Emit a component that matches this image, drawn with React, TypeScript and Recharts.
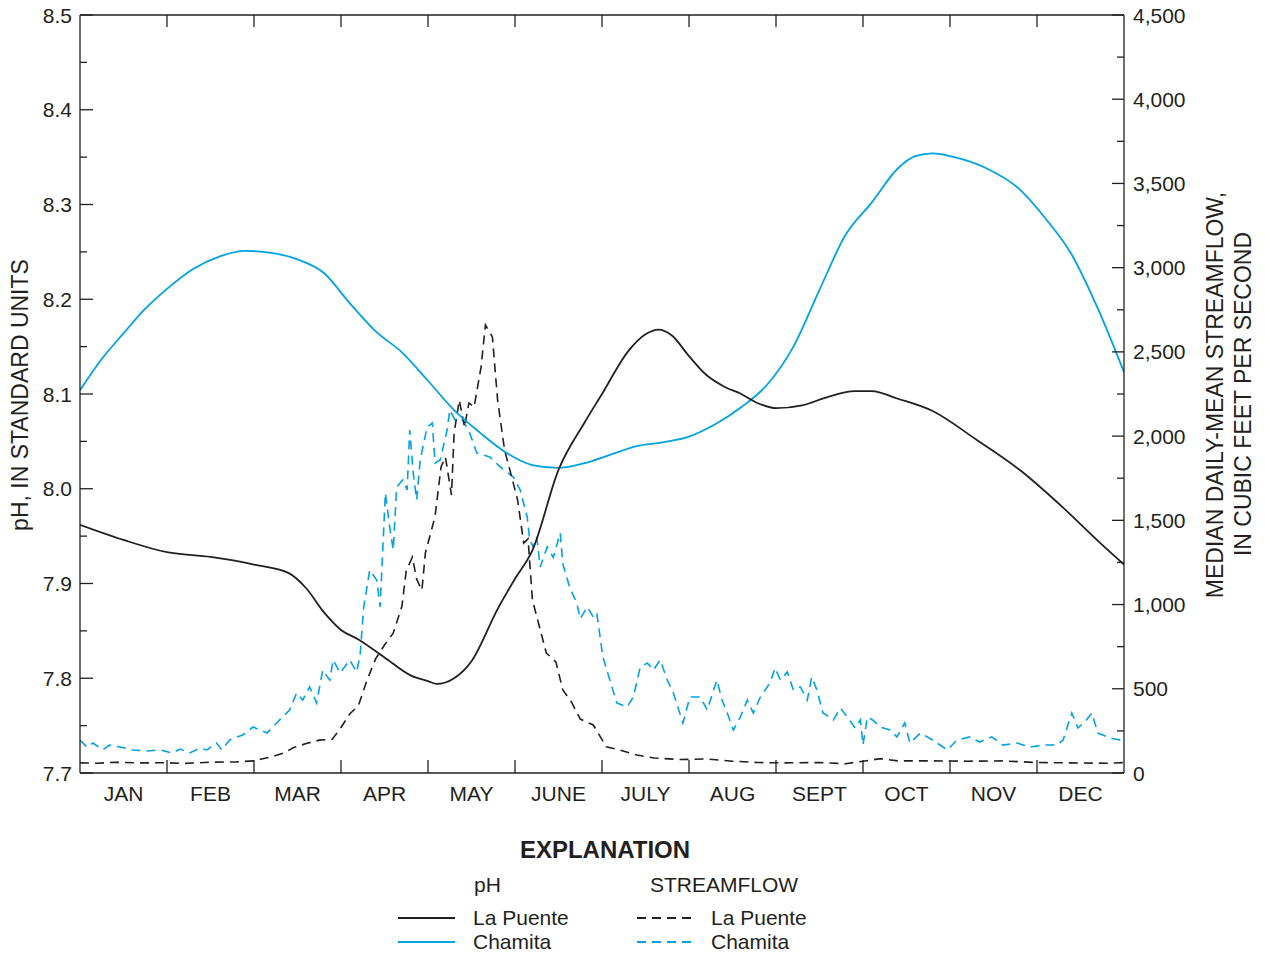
import React from 'react';
import { LineChart, Line, XAxis, YAxis, ReferenceLine } from 'recharts';

const months = ['JAN', 'FEB', 'MAR', 'APR', 'MAY', 'JUNE', 'JULY', 'AUG', 'SEPT', 'OCT', 'NOV', 'DEC'];

const phTicks = [7.7, 7.75, 7.8, 7.85, 7.9, 7.95, 8.0, 8.05, 8.1, 8.15, 8.2, 8.25, 8.3, 8.35, 8.4, 8.45, 8.5];
const flowTicks = [0, 250, 500, 750, 1000, 1250, 1500, 1750, 2000, 2250, 2500, 2750, 3000, 3250, 3500, 3750, 4000, 4250, 4500];

// [month position, pH]
const phLaPuente: [number, number][] = [
  [0, 7.962], [0.5, 7.946], [1, 7.933], [1.5, 7.928], [2, 7.92], [2.4, 7.911], [2.6, 7.895],
  [2.8, 7.87], [3, 7.851], [3.2, 7.841], [3.5, 7.822], [3.8, 7.803], [4, 7.797], [4.1, 7.794],
  [4.3, 7.8], [4.5, 7.818], [4.8, 7.873], [5, 7.905], [5.2, 7.935], [5.5, 8.02], [5.8, 8.07],
  [6, 8.1], [6.3, 8.145], [6.5, 8.163], [6.65, 8.168], [6.8, 8.162], [7, 8.14], [7.2, 8.12],
  [7.4, 8.108], [7.6, 8.1], [7.8, 8.09], [8, 8.085], [8.3, 8.088], [8.6, 8.097], [8.9, 8.103],
  [9.1, 8.103], [9.4, 8.095], [9.8, 8.082], [10.3, 8.052], [10.8, 8.02], [11.3, 7.98], [11.7, 7.945], [12, 7.92],
];

const phChamita: [number, number][] = [
  [0, 8.104], [0.25, 8.137], [0.5, 8.164], [0.75, 8.19], [1, 8.211], [1.3, 8.232], [1.6, 8.245],
  [1.9, 8.251], [2.2, 8.249], [2.5, 8.242], [2.8, 8.228], [3.1, 8.196], [3.4, 8.166], [3.7, 8.144],
  [4, 8.114], [4.3, 8.083], [4.6, 8.059], [4.9, 8.038], [5.2, 8.025], [5.5, 8.022], [5.8, 8.027],
  [6.1, 8.036], [6.4, 8.045], [6.7, 8.049], [7, 8.055], [7.3, 8.068], [7.6, 8.086], [7.9, 8.11],
  [8.2, 8.15], [8.5, 8.21], [8.8, 8.268], [9.1, 8.302], [9.4, 8.338], [9.6, 8.351], [9.8, 8.354],
  [10.05, 8.35], [10.4, 8.339], [10.8, 8.316], [11.1, 8.285], [11.4, 8.247], [11.7, 8.19], [12, 8.123],
];

// [month position, cubic feet per second]
const flowLaPuente: [number, number][] = [
  [0, 60], [0.2, 58], [0.4, 64], [0.7, 60], [1, 61], [1.2, 57], [1.5, 64], [1.8, 66], [2, 72],
  [2.1, 85], [2.2, 95], [2.35, 120], [2.45, 150], [2.6, 175], [2.75, 195], [2.9, 200], [3, 270],
  [3.1, 350], [3.2, 400], [3.3, 552], [3.4, 680], [3.5, 760], [3.6, 830], [3.7, 990], [3.75, 1200],
  [3.82, 1282], [3.87, 1150], [3.93, 1086], [3.97, 1306], [4.08, 1520], [4.15, 1817], [4.2, 1876],
  [4.27, 1650], [4.3, 2018], [4.36, 2214], [4.42, 2054], [4.47, 2197], [4.53, 2173], [4.61, 2410],
  [4.66, 2660], [4.74, 2589], [4.8, 2214], [4.88, 1918], [4.95, 1781], [5.03, 1621], [5.1, 1365],
  [5.15, 1390], [5.2, 1027], [5.28, 870], [5.36, 712], [5.47, 660], [5.55, 493], [5.65, 420],
  [5.75, 320], [5.9, 285], [6.05, 155], [6.2, 137], [6.4, 107], [6.6, 89], [6.9, 80], [7.2, 83],
  [7.5, 70], [7.8, 62], [8.1, 60], [8.5, 62], [8.8, 55], [9, 70], [9.2, 85], [9.4, 72], [9.8, 72],
  [10.2, 70], [10.6, 72], [11, 62], [11.4, 60], [11.8, 58], [12, 62],
];

const flowChamita: [number, number][] = [
  [0, 196], [0.08, 154], [0.15, 178], [0.26, 137], [0.34, 166], [0.46, 154], [0.61, 137], [0.77, 131],
  [0.92, 137], [1.06, 119], [1.15, 142], [1.26, 119], [1.38, 148], [1.46, 137], [1.57, 178], [1.63, 137],
  [1.72, 196], [1.87, 226], [1.99, 273], [2.07, 255], [2.15, 237], [2.26, 297], [2.41, 374], [2.49, 475],
  [2.56, 433], [2.64, 511], [2.72, 416], [2.79, 611], [2.87, 552], [2.91, 671], [2.99, 594], [3.1, 671],
  [3.18, 600], [3.22, 700], [3.26, 980], [3.33, 1205], [3.41, 1146], [3.45, 986], [3.51, 1662], [3.56, 1460],
  [3.6, 1324], [3.64, 1698], [3.71, 1740], [3.76, 1680], [3.79, 2036], [3.83, 1781], [3.87, 1621], [3.91, 1858],
  [3.99, 2054], [4.05, 2078], [4.08, 1840], [4.14, 1858], [4.22, 2036], [4.25, 2155], [4.31, 2096], [4.4, 2096],
  [4.48, 2018], [4.56, 1900], [4.71, 1876], [4.83, 1817], [4.98, 1757], [5.06, 1680], [5.14, 1520], [5.17, 1383],
  [5.21, 1342], [5.25, 1401], [5.29, 1223], [5.37, 1342], [5.44, 1280], [5.52, 1425], [5.55, 1240], [5.63, 1100],
  [5.71, 1009], [5.75, 915], [5.83, 986], [5.9, 926], [5.94, 950], [6.01, 689], [6.09, 552], [6.17, 416],
  [6.29, 392], [6.36, 451], [6.44, 629], [6.52, 653], [6.59, 611], [6.67, 671], [6.75, 552], [6.82, 475],
  [6.93, 297], [7.01, 451], [7.13, 451], [7.21, 374], [7.32, 552], [7.38, 433], [7.44, 356], [7.51, 255],
  [7.59, 332], [7.67, 433], [7.74, 356], [7.82, 451], [7.93, 534], [7.99, 623], [8.05, 552], [8.13, 600],
  [8.2, 493], [8.28, 511], [8.36, 433], [8.41, 570], [8.47, 493], [8.54, 356], [8.66, 315], [8.74, 386],
  [8.82, 332], [8.91, 267], [8.97, 315], [9, 166], [9.05, 332], [9.11, 315], [9.2, 273], [9.31, 255],
  [9.39, 214], [9.48, 297], [9.54, 178], [9.66, 237], [9.8, 196], [9.97, 137], [10.08, 196], [10.23, 214],
  [10.34, 184], [10.48, 214], [10.61, 166], [10.77, 178], [10.92, 154], [11.07, 166], [11.23, 166], [11.3, 196],
  [11.4, 356], [11.47, 267], [11.55, 303], [11.63, 356], [11.7, 237], [11.84, 208], [11.95, 196], [12, 166],
];

const toRows = (pts: [number, number][]) => pts.map(([m, v]) => ({ m, v }));

const INK = '#231f20';
const CYAN = '#00a3e0';
const FONT = '"Liberation Sans", Arial, Helvetica, sans-serif';
const PLOT_TOP = 15;

const xTicks = months.flatMap((_, i) => [i, i + 0.5]).concat(12);

const LeftTick = (props: any) => {
  const { x, y, payload } = props;
  const major = Math.round(payload.value * 100) % 10 === 0;
  return (
    <g>
      <line x1={x} x2={x + (major ? 13 : 7)} y1={y} y2={y} stroke={INK} strokeWidth={1.3} />
      {major && (
        <text x={x - 8} y={y} dy="0.36em" textAnchor="end" fontSize={21} fontFamily={FONT} fill={INK}>
          {payload.value.toFixed(1)}
        </text>
      )}
    </g>
  );
};

const RightTick = (props: any) => {
  const { x, y, payload } = props;
  const major = payload.value % 500 === 0;
  return (
    <g>
      <line x1={x - (major ? 12 : 7)} x2={x} y1={y} y2={y} stroke={INK} strokeWidth={1.3} />
      {major && (
        <text x={x + 9} y={y} dy="0.36em" textAnchor="start" fontSize={21} fontFamily={FONT} fill={INK}>
          {payload.value.toLocaleString('en-US')}
        </text>
      )}
    </g>
  );
};

const MonthTick = (props: any) => {
  const { x, y, payload } = props;
  const v = payload.value;
  if (Number.isInteger(v)) {
    if (v === 0 || v === 12) return <g />;
    return (
      <g>
        <line x1={x} x2={x} y1={y} y2={y - 13} stroke={INK} strokeWidth={1.3} />
        <line x1={x} x2={x} y1={PLOT_TOP} y2={PLOT_TOP + 12} stroke={INK} strokeWidth={1.3} />
      </g>
    );
  }
  return (
    <text x={x} y={y + 20} dy="0.36em" textAnchor="middle" fontSize={21} fontFamily={FONT} fill={INK}>
      {months[Math.floor(v)]}
    </text>
  );
};

const Explanation = () => (
  <svg width={1265} height={955} style={{ position: 'absolute', left: 0, top: 0, pointerEvents: 'none' }}>
    <g fontFamily={FONT} fill={INK}>
      <text x={605} y={858} textAnchor="middle" fontSize={24} fontWeight="bold">EXPLANATION</text>
      <text x={474} y={892} fontSize={21}>pH</text>
      <text x={650} y={892} fontSize={21}>STREAMFLOW</text>
      <line x1={398} x2={455} y1={918} y2={918} stroke={INK} strokeWidth={2} />
      <line x1={398} x2={455} y1={942} y2={942} stroke={CYAN} strokeWidth={2} />
      <text x={473} y={925} fontSize={21}>La Puente</text>
      <text x={473} y={949} fontSize={21}>Chamita</text>
      <line x1={637} x2={694} y1={918} y2={918} stroke={INK} strokeWidth={2} strokeDasharray="9 6" />
      <line x1={637} x2={694} y1={942} y2={942} stroke={CYAN} strokeWidth={2} strokeDasharray="9 6" />
      <text x={711} y={925} fontSize={21}>La Puente</text>
      <text x={711} y={949} fontSize={21}>Chamita</text>
    </g>
    <g fontFamily={FONT} fill={INK} fontSize={23}>
      <text x={20} y={395} dy="0.36em" textAnchor="middle" transform="rotate(-90 20 395)">pH, IN STANDARD UNITS</text>
      <text x={1215} y={395} dy="0.36em" textAnchor="middle" transform="rotate(-90 1215 395)">MEDIAN DAILY-MEAN STREAMFLOW,</text>
      <text x={1243} y={394} dy="0.36em" textAnchor="middle" transform="rotate(-90 1243 394)">IN CUBIC FEET PER SECOND</text>
    </g>
  </svg>
);

export default function App() {
  return (
    <div style={{ position: 'absolute', left: 0, top: 0, width: 1265, height: 955, background: '#fff' }}>
      <LineChart width={1265} height={955} margin={{ top: PLOT_TOP, right: 0, bottom: 0, left: 0 }}>
        <XAxis
          dataKey="m"
          type="number"
          domain={[0, 12]}
          ticks={xTicks}
          interval={0}
          height={182}
          tickSize={0}
          tickMargin={0}
          tick={<MonthTick />}
          axisLine={{ stroke: INK, strokeWidth: 1.3 }}
          tickLine={false}
          allowDataOverflow
        />
        <YAxis
          yAxisId="ph"
          orientation="left"
          type="number"
          domain={[7.7, 8.5]}
          ticks={phTicks}
          interval={0}
          width={80}
          tickSize={0}
          tickMargin={0}
          tick={<LeftTick />}
          axisLine={{ stroke: INK, strokeWidth: 1.3 }}
          tickLine={false}
          allowDataOverflow
        />
        <YAxis
          yAxisId="flow"
          orientation="right"
          type="number"
          domain={[0, 4500]}
          ticks={flowTicks}
          interval={0}
          width={141}
          tickSize={0}
          tickMargin={0}
          tick={<RightTick />}
          axisLine={{ stroke: INK, strokeWidth: 1.3 }}
          tickLine={false}
          allowDataOverflow
        />
        <ReferenceLine yAxisId="ph" y={8.5} stroke={INK} strokeWidth={1.3} />
        <Line yAxisId="flow" data={toRows(flowChamita)} dataKey="v" type="linear" stroke={CYAN} strokeWidth={1.6}
          strokeDasharray="9 6" dot={false} activeDot={false} isAnimationActive={false} />
        <Line yAxisId="flow" data={toRows(flowLaPuente)} dataKey="v" type="linear" stroke={INK} strokeWidth={1.6}
          strokeDasharray="9 6" dot={false} activeDot={false} isAnimationActive={false} />
        <Line yAxisId="ph" data={toRows(phChamita)} dataKey="v" type="monotone" stroke={CYAN} strokeWidth={1.8}
          dot={false} activeDot={false} isAnimationActive={false} />
        <Line yAxisId="ph" data={toRows(phLaPuente)} dataKey="v" type="monotone" stroke={INK} strokeWidth={1.8}
          dot={false} activeDot={false} isAnimationActive={false} />
      </LineChart>
      <Explanation />
    </div>
  );
}
